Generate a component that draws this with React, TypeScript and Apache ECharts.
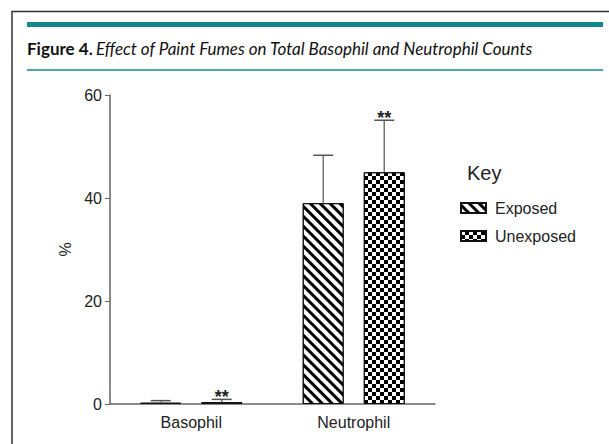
import React, { useEffect, useRef } from "react";
import * as echarts from "echarts";

const categories = ["Basophil", "Neutrophil"];
const seriesNames = ["Exposed", "Unexposed"];
const exposedMean = [0.25, 39.0];
const exposedErr = [0.4, 9.3];
const unexposedMean = [0.35, 45.0];
const unexposedErr = [0.55, 10.1];
const exposedSig = ["", ""];
const unexposedSig = ["**", "**"];
const yTicks = [0, 20, 40, 60];

const TEAL = "#12898f";
const BAR_W = 41;
const BAR_OFFSET = 30.5;

function errorSeries(name: string, means: number[], errs: number[], sig: string[], dir: number) {
  const data = means.map((m, i) => [i, m, m + errs[i], sig[i]]);
  return {
    type: "custom",
    name: name + "-err",
    data,
    z: 5,
    silent: true,
    renderItem: (params: any, api: any) => {
      const i = api.value(0);
      const lo = api.coord([i, api.value(1)]);
      const hi = api.coord([i, api.value(2)]);
      const x = lo[0] + dir * BAR_OFFSET;
      const s = data[params.dataIndex][3] as string;
      const children: any[] = [
        {
          type: "line",
          shape: { x1: x, y1: lo[1], x2: x, y2: hi[1] },
          style: { stroke: "#777", lineWidth: 1.5 },
        },
        {
          type: "line",
          shape: { x1: x - 10, y1: hi[1], x2: x + 10, y2: hi[1] },
          style: { stroke: "#555", lineWidth: 1.5 },
        },
      ];
      if (s) {
        children.push({
          type: "text",
          style: {
            x,
            y: hi[1] - 2,
            text: s,
            fill: "#222",
            font: "bold 18px 'Liberation Sans', Arial, sans-serif",
            align: "center",
            verticalAlign: "middle",
          },
        });
      }
      return { type: "group", children };
    },
  };
}

export default function App() {
  const ref = useRef<HTMLDivElement>(null);
  useEffect(() => {
    if (!ref.current) return;
    const chart = echarts.init(ref.current, null, { renderer: "svg" });
    const font = "'Liberation Sans', Arial, sans-serif";
    chart.setOption({
      animation: false,
      backgroundColor: "#fff",
      grid: { left: 110, right: 174, top: 95, bottom: 40, containLabel: false },
      xAxis: {
        type: "category",
        data: categories,
        axisLine: { lineStyle: { color: "#666", width: 1.5 } },
        axisTick: { alignWithLabel: true, length: 5, lineStyle: { color: "#444" } },
        axisLabel: { color: "#222", fontSize: 16, fontFamily: font, margin: 10 },
      },
      yAxis: {
        type: "value",
        min: 0,
        max: 60,
        interval: 20,
        name: "%",
        nameLocation: "middle",
        nameGap: 32,
        nameRotate: 90,
        nameTextStyle: { color: "#222", fontSize: 16, fontFamily: font },
        splitLine: { show: false },
        axisLine: { show: true, lineStyle: { color: "#666", width: 1.5 } },
        axisTick: { show: true, length: 5, lineStyle: { color: "#666" } },
        axisLabel: {
          color: "#222",
          fontSize: 16,
          fontFamily: font,
          margin: 8,
          formatter: (v: number) => (yTicks.includes(v) ? String(v) : ""),
        },
      },
      legend: {
        orient: "vertical",
        left: 455,
        top: 195,
        itemWidth: 25,
        itemHeight: 10,
        itemGap: 12,
        icon: "rect",
        data: seriesNames,
        textStyle: { color: "#222", fontSize: 16, fontFamily: font, padding: [0, 0, 0, 4] },
      },
      graphic: [
        {
          type: "polyline",
          shape: { points: [[12, 444], [12, 11.5], [612, 11.5]] },
          style: { stroke: "#333", lineWidth: 1.5, fill: null },
        },
        { type: "rect", shape: { x: 27, y: 22, width: 576, height: 5 }, style: { fill: TEAL } },
        {
          type: "line",
          shape: { x1: 27, y1: 70, x2: 603, y2: 70 },
          style: { stroke: TEAL, lineWidth: 1.5 },
        },
        {
          type: "text",
          x: 27,
          y: 48,
          style: {
            text: "{b|Figure 4.} {i|Effect of Paint Fumes on Total Basophil and Neutrophil Counts}",
            verticalAlign: "middle",
            rich: {
              b: { fontFamily: "Lato", fontWeight: "bold", fontSize: 17, fill: "#111" },
              i: { fontFamily: "Lato", fontStyle: "italic", fontSize: 17, fill: "#111" },
            },
          },
        },
        {
          type: "text",
          x: 467,
          y: 173,
          style: {
            text: "Key",
            font: "20px 'Liberation Sans', Arial, sans-serif",
            fill: "#222",
            verticalAlign: "middle",
          },
        },
      ],
      series: [
        {
          type: "bar",
          name: seriesNames[0],
          data: exposedMean,
          barWidth: BAR_W,
          barGap: "49%",
          itemStyle: {
            color: "#fff",
            borderColor: "#111",
            borderWidth: 1,
            decal: {
              symbol: "rect",
              symbolSize: 1,
              color: "#000",
              dashArrayX: [1, 0],
              dashArrayY: [3, 4],
              rotation: Math.PI / 4,
            },
          },
        },
        {
          type: "bar",
          name: seriesNames[1],
          data: unexposedMean,
          barWidth: BAR_W,
          itemStyle: {
            color: "#fff",
            borderColor: "#111",
            borderWidth: 1,
            decal: {
              symbol: "rect",
              symbolSize: 1,
              color: "#000",
              dashArrayX: [
                [4, 4],
                [0, 4, 4, 0],
              ],
              dashArrayY: [4, 0],
              rotation: 0,
            },
          },
        },
        errorSeries(seriesNames[0], exposedMean, exposedErr, exposedSig, -1),
        errorSeries(seriesNames[1], unexposedMean, unexposedErr, unexposedSig, 1),
      ],
    });
    return () => chart.dispose();
  }, []);
  return (
    <div
      ref={ref}
      style={{ position: "fixed", left: 0, top: 0, width: 609, height: 444 }}
    />
  );
}
